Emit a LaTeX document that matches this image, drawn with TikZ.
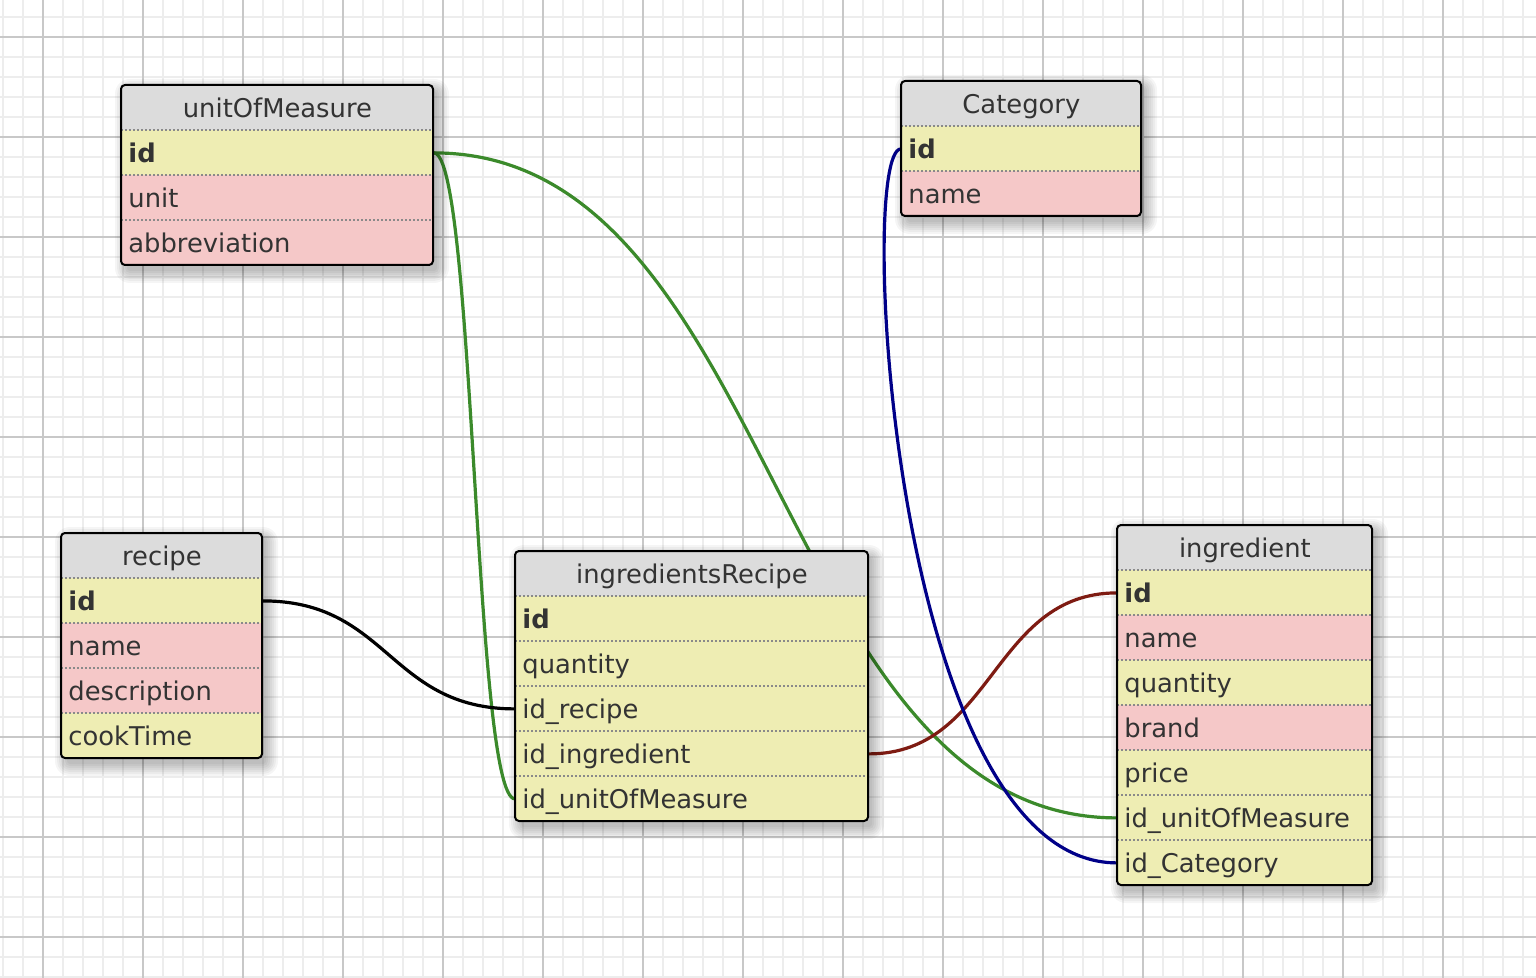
\documentclass[tikz,border=0pt]{standalone}
\usepackage{fontspec}
\setmainfont{DejaVu Sans}
\definecolor{minorc}{HTML}{EDEDED}
\definecolor{majorc}{HTML}{C8C8C8}
\definecolor{hdrc}{HTML}{DCDCDC}
\definecolor{yelc}{HTML}{EEEDB3}
\definecolor{pinkc}{HTML}{F5C8C8}
\definecolor{txtc}{HTML}{333333}
\definecolor{sepc}{HTML}{8A8A8A}
\definecolor{lgreen}{HTML}{3B8A2B}
\definecolor{lblue}{HTML}{000088}
\definecolor{lred}{HTML}{7E1B12}
\pgfdeclarelayer{gridl}
\pgfdeclarelayer{conn}
\pgfsetlayers{gridl,conn,main}
\tikzset{
  dbrow/.style={anchor=north west, inner xsep=3.5pt, inner ysep=0pt, minimum height=22.5pt,
    text height=10pt, text depth=0pt, align=left, text=txtc,
    font=\fontsize{12.9pt}{15pt}\selectfont},
  dbhead/.style={anchor=north west, inner xsep=0pt, inner ysep=0pt, minimum height=22.5pt,
    text height=10pt, text depth=0pt, fill=hdrc, text=txtc,
    font=\fontsize{12.9pt}{15pt}\selectfont},
  sepline/.style={sepc, line width=0.7pt, dash pattern=on 1pt off 1pt},
  tframe/.style={draw=black, line width=1pt, rounded corners=2pt},
  shadowpiece/.style={fill=black, fill opacity=0.04},
  relline/.style={line width=1.6pt},
  minorl/.style={minorc, line width=1pt},
  majorl/.style={majorc, line width=1pt}
}
\newcommand\tshadow[4]{%
  \foreach \k in {0,2,...,12}{%
    \pgfmathsetlengthmacro\myrc{(3+\k)*0.5pt}%
    \fill[shadowpiece, rounded corners=\myrc] ({#1+6-\k},{#2+6-\k}) rectangle ({#3+4+\k},{#4+6+\k});
  }}
\newcommand\dbhdr[5]{%
  \pgfmathsetlengthmacro\mywd{(#4)*0.5pt}%
  \node[dbhead, minimum width=\mywd] (#1) at (#2,#3) {#5};}
\newcommand\dbrow[6]{%
  \pgfmathsetlengthmacro\mytw{(#4)*0.5pt-7pt}%
  \node[dbrow, fill=#5, text width=\mytw] (#1) at (#2,#3) {#6};
  \draw[sepline] (#1.north west) -- (#1.north east);}
\begin{document}
\begin{tikzpicture}[x=0.5pt,y=-0.5pt]
\useasboundingbox (0,0) rectangle (1536,978);
\begin{pgfonlayer}{gridl}
  \fill[white] (0,0) rectangle (1536,978);
  \foreach \i in {3,23,...,1535} \draw[minorl] (\i,0) -- (\i,978);
  \foreach \j in {17,37,...,977} \draw[minorl] (0,\j) -- (1536,\j);
  \foreach \i in {43,143,...,1443} \draw[majorl] (\i,0) -- (\i,978);
  \foreach \j in {37,137,...,937} \draw[majorl] (0,\j) -- (1536,\j);
\end{pgfonlayer}

% unitOfMeasure
\tshadow{121}{85}{433}{265}
\begin{scope}
  \clip[rounded corners=2pt] (121,85) rectangle (433,265);
  \dbhdr{uom}{121}{85}{312}{unitOfMeasure}
  \dbrow{uom-id}{121}{130}{312}{yelc}{\bfseries id}
  \dbrow{uom-unit}{121}{175}{312}{pinkc}{unit}
  \dbrow{uom-abbr}{121}{220}{312}{pinkc}{abbreviation}
\end{scope}
\draw[tframe] (121,85) rectangle (433,265);

% Category
\tshadow{901}{81}{1141}{216}
\begin{scope}
  \clip[rounded corners=2pt] (901,81) rectangle (1141,216);
  \dbhdr{cat}{901}{81}{240}{Category}
  \dbrow{cat-id}{901}{126}{240}{yelc}{\bfseries id}
  \dbrow{cat-name}{901}{171}{240}{pinkc}{name}
\end{scope}
\draw[tframe] (901,81) rectangle (1141,216);

% recipe
\tshadow{61}{533}{262}{758}
\begin{scope}
  \clip[rounded corners=2pt] (61,533) rectangle (262,758);
  \dbhdr{rec}{61}{533}{201}{recipe}
  \dbrow{rec-id}{61}{578}{201}{yelc}{\bfseries id}
  \dbrow{rec-name}{61}{623}{201}{pinkc}{name}
  \dbrow{rec-desc}{61}{668}{201}{pinkc}{description}
  \dbrow{rec-cook}{61}{713}{201}{yelc}{cookTime}
\end{scope}
\draw[tframe] (61,533) rectangle (262,758);

% ingredientsRecipe
\tshadow{515}{551}{868}{821}
\begin{scope}
  \clip[rounded corners=2pt] (515,551) rectangle (868,821);
  \dbhdr{ir}{515}{551}{353}{ingredientsRecipe}
  \dbrow{ir-id}{515}{596}{353}{yelc}{\bfseries id}
  \dbrow{ir-qty}{515}{641}{353}{yelc}{quantity}
  \dbrow{ir-recipe}{515}{686}{353}{yelc}{id\_recipe}
  \dbrow{ir-ingr}{515}{731}{353}{yelc}{id\_ingredient}
  \dbrow{ir-unit}{515}{776}{353}{yelc}{id\_unitOfMeasure}
\end{scope}
\draw[tframe] (515,551) rectangle (868,821);

% ingredient
\tshadow{1117}{525}{1372}{885}
\begin{scope}
  \clip[rounded corners=2pt] (1117,525) rectangle (1372,885);
  \dbhdr{ing}{1117}{525}{255}{ingredient}
  \dbrow{ing-id}{1117}{570}{255}{yelc}{\bfseries id}
  \dbrow{ing-name}{1117}{615}{255}{pinkc}{name}
  \dbrow{ing-qty}{1117}{660}{255}{yelc}{quantity}
  \dbrow{ing-brand}{1117}{705}{255}{pinkc}{brand}
  \dbrow{ing-price}{1117}{750}{255}{yelc}{price}
  \dbrow{ing-unit}{1117}{795}{255}{yelc}{id\_unitOfMeasure}
  \dbrow{ing-cat}{1117}{840}{255}{yelc}{id\_Category}
\end{scope}
\draw[tframe] (1117,525) rectangle (1372,885);

% relations
\begin{pgfonlayer}{conn}
  \draw[relline, lgreen] (uom-id.east) .. controls +(41,0) and +(-41,0) .. (ir-unit.west);
  \draw[relline, lgreen] (uom-id.east) .. controls +(342,0) and +(-342,0) .. (ing-unit.west);
  \draw[relline, black] (rec-id.east) .. controls +(126,0) and +(-126,0) .. (ir-recipe.west);
  \draw[relline, lred] (ir-ingr.east) .. controls +(125,0) and +(-125,0) .. (ing-id.west);
  \draw[relline, lblue] (cat-id.west) .. controls +(-45,0) and +(-225,0) .. (ing-cat.west);
\end{pgfonlayer}
\end{tikzpicture}
\end{document}
